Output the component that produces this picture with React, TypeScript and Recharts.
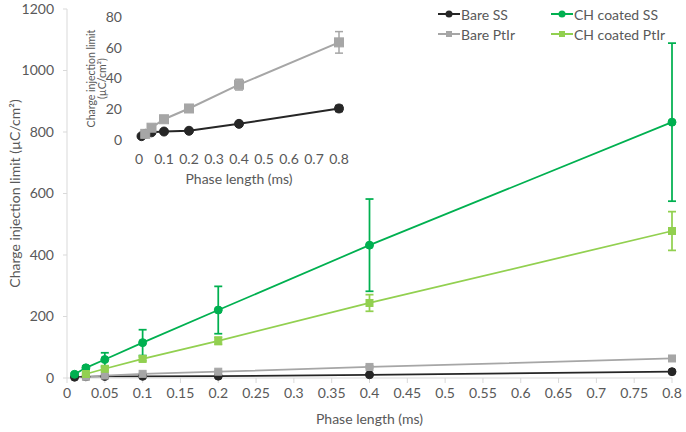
import React from 'react';
import { LineChart, Line, XAxis, YAxis, ErrorBar } from 'recharts';

const phase = [0.01, 0.025, 0.05, 0.1, 0.2, 0.4, 0.8];
const bareSS = [2.5, 4, 5, 5.5, 6, 10.5, 20.5];
const bareSSErr = [0.5, 0.5, 0.8, 1, 1, 1.5, 2];
const barePtIr = [null, 4, 8, 13.5, 20.5, 36, 63.5];
const barePtIrErr = [null, 0.8, 1, 1.5, 1.5, 3.5, 7];
const chSS = [12, 33, 60, 115, 221, 432, 832];
const chSSErr = [4, 6, 22, 42, 77, 150, 257];
const chPtIr = [null, 13, 30, 62, 121, 244, 478];
const chPtIrErr = [null, 2, 4, 6, 12, 27, 63];

const mainXTicks = [0, 0.05, 0.1, 0.15, 0.2, 0.25, 0.3, 0.35, 0.4, 0.45, 0.5, 0.55, 0.6, 0.65, 0.7, 0.75, 0.8];
const mainYTicks = [0, 200, 400, 600, 800, 1000, 1200];
const insetXTicks = [0, 0.1, 0.2, 0.3, 0.4, 0.5, 0.6, 0.7, 0.8];
const insetYTicks = [0, 20, 40, 60, 80];

const C_BARE_SS = '#262626';
const C_CH_SS = '#00B050';
const C_BARE_PT = '#A6A6A6';
const C_CH_PT = '#92D050';
const TEXT = '#595959';
const AXIS = '#D9D9D9';

function rows(vals: (number | null)[], errs: (number | null)[]) {
  return phase
    .map((x, i) => ({ x, y: vals[i], err: errs[i] }))
    .filter((r) => r.y != null);
}

const series = [
  { name: 'Bare SS', color: C_BARE_SS, shape: 'circle', data: rows(bareSS, bareSSErr) },
  { name: 'CH coated SS', color: C_CH_SS, shape: 'circle', data: rows(chSS, chSSErr) },
  { name: 'Bare PtIr', color: C_BARE_PT, shape: 'square', data: rows(barePtIr, barePtIrErr) },
  { name: 'CH coated PtIr', color: C_CH_PT, shape: 'square', data: rows(chPtIr, chPtIrErr) },
];

function makeDot(shape: string, color: string, size: number) {
  return (props: any) => {
    const { cx, cy, index } = props;
    if (cx == null || cy == null) return <g key={index} />;
    if (shape === 'circle') {
      return <circle key={index} cx={cx} cy={cy} r={size / 2} fill={color} stroke={color} />;
    }
    return (
      <rect key={index} x={cx - size / 2} y={cy - size / 2} width={size} height={size} fill={color} stroke={color} />
    );
  };
}

function LegendBox() {
  return (
    <div
      style={{
        position: 'absolute',
        top: 6,
        left: 438,
        display: 'grid',
        gridTemplateColumns: '113px 130px',
        rowGap: 4,
        fontSize: 14,
        color: TEXT,
      }}
    >
      {series.map((s) => (
        <div key={s.name} style={{ display: 'flex', alignItems: 'center', height: 16 }}>
          <svg width={22} height={10} style={{ marginRight: 1 }}>
            <line x1={0} y1={5} x2={22} y2={5} stroke={s.color} strokeWidth={2} />
            {s.shape === 'circle' ? (
              <circle cx={11} cy={5} r={3.5} fill={s.color} />
            ) : (
              <rect x={8} y={2} width={6} height={6} fill={s.color} />
            )}
          </svg>
          <span>{s.name}</span>
        </div>
      ))}
    </div>
  );
}

function MainYLabel(props: any) {
  const vb = props.viewBox || {};
  const cy = vb.y + vb.height / 2;
  return (
    <text x={14} y={cy} transform={`rotate(-90 14 ${cy})`} textAnchor="middle" dominantBaseline="central" fill={TEXT} fontSize={14}>
      Charge injection limit (µC/cm²)
    </text>
  );
}

function InsetYLabel(props: any) {
  const vb = props.viewBox || {};
  const cy = vb.y + vb.height / 2;
  return (
    <g fill={TEXT} fontSize={10.5}>
      <text x={21} y={cy} transform={`rotate(-90 21 ${cy})`} textAnchor="middle" dominantBaseline="central">
        Charge injection limit
      </text>
      <text x={32} y={cy} transform={`rotate(-90 32 ${cy})`} textAnchor="middle" dominantBaseline="central">
        (µC/cm²)
      </text>
    </g>
  );
}

export default function App() {
  return (
    <div style={{ position: 'fixed', left: 0, top: 0, width: 686, height: 432, background: '#fff', fontFamily: 'Lato, sans-serif' }}>
      <LineChart width={686} height={432} margin={{ top: 9, right: 14, bottom: 0, left: 0 }}>
        <XAxis
          type="number"
          dataKey="x"
          domain={[0, 0.8]}
          ticks={mainXTicks}
          interval={0}
          stroke={AXIS}
          tick={{ fill: TEXT, fontSize: 14 }}
          tickSize={5}
          tickMargin={5}
          height={54}
          allowDuplicatedCategory={false}
          label={{ value: 'Phase length (ms)', position: 'insideBottom', offset: 8, fill: TEXT, fontSize: 14 }}
        />
        <YAxis
          type="number"
          domain={[0, 1200]}
          ticks={mainYTicks}
          interval={0}
          stroke={AXIS}
          tick={{ fill: TEXT, fontSize: 14 }}
          tickSize={4}
          tickMargin={9}
          width={67}
          label={<MainYLabel />}
        />
        {series.map((s) => (
          <Line
            key={s.name}
            name={s.name}
            data={s.data}
            dataKey="y"
            stroke={s.color}
            strokeWidth={1.75}
            dot={makeDot(s.shape, s.color, s.shape === 'circle' ? 8 : 7)}
            activeDot={false}
            isAnimationActive={false}
          >
            <ErrorBar dataKey="err" direction="y" width={4} stroke={s.color} strokeWidth={1.75} isAnimationActive={false} />
          </Line>
        ))}
      </LineChart>

      <LegendBox />

      <div style={{ position: 'absolute', left: 70, top: 0 }}>
        <LineChart width={290} height={195} margin={{ top: 17, right: 21, bottom: 0, left: 0 }}>
          <XAxis
            type="number"
            dataKey="x"
            domain={[0, 0.8]}
            ticks={insetXTicks}
            interval={0}
            axisLine={false}
            tickLine={false}
            tick={{ fill: TEXT, fontSize: 14 }}
            tickSize={0}
            tickMargin={14}
            height={55}
            allowDuplicatedCategory={false}
            label={{ value: 'Phase length (ms)', position: 'insideBottom', offset: 11, fill: TEXT, fontSize: 14 }}
          />
          <YAxis
            type="number"
            domain={[0, 80]}
            ticks={insetYTicks}
            interval={0}
            axisLine={false}
            tickLine={false}
            tick={{ fill: TEXT, fontSize: 14 }}
            tickSize={0}
            tickMargin={17}
            width={69}
            label={<InsetYLabel />}
          />
          {[series[0], series[2]].map((s) => (
            <Line
              key={s.name}
              name={s.name}
              data={s.data}
              dataKey="y"
              stroke={s.color}
              strokeWidth={2}
              dot={makeDot(s.shape, s.color, 9)}
              activeDot={false}
              isAnimationActive={false}
            >
              <ErrorBar dataKey="err" direction="y" width={4} stroke={s.color} strokeWidth={1.5} isAnimationActive={false} />
            </Line>
          ))}
        </LineChart>
      </div>
    </div>
  );
}
